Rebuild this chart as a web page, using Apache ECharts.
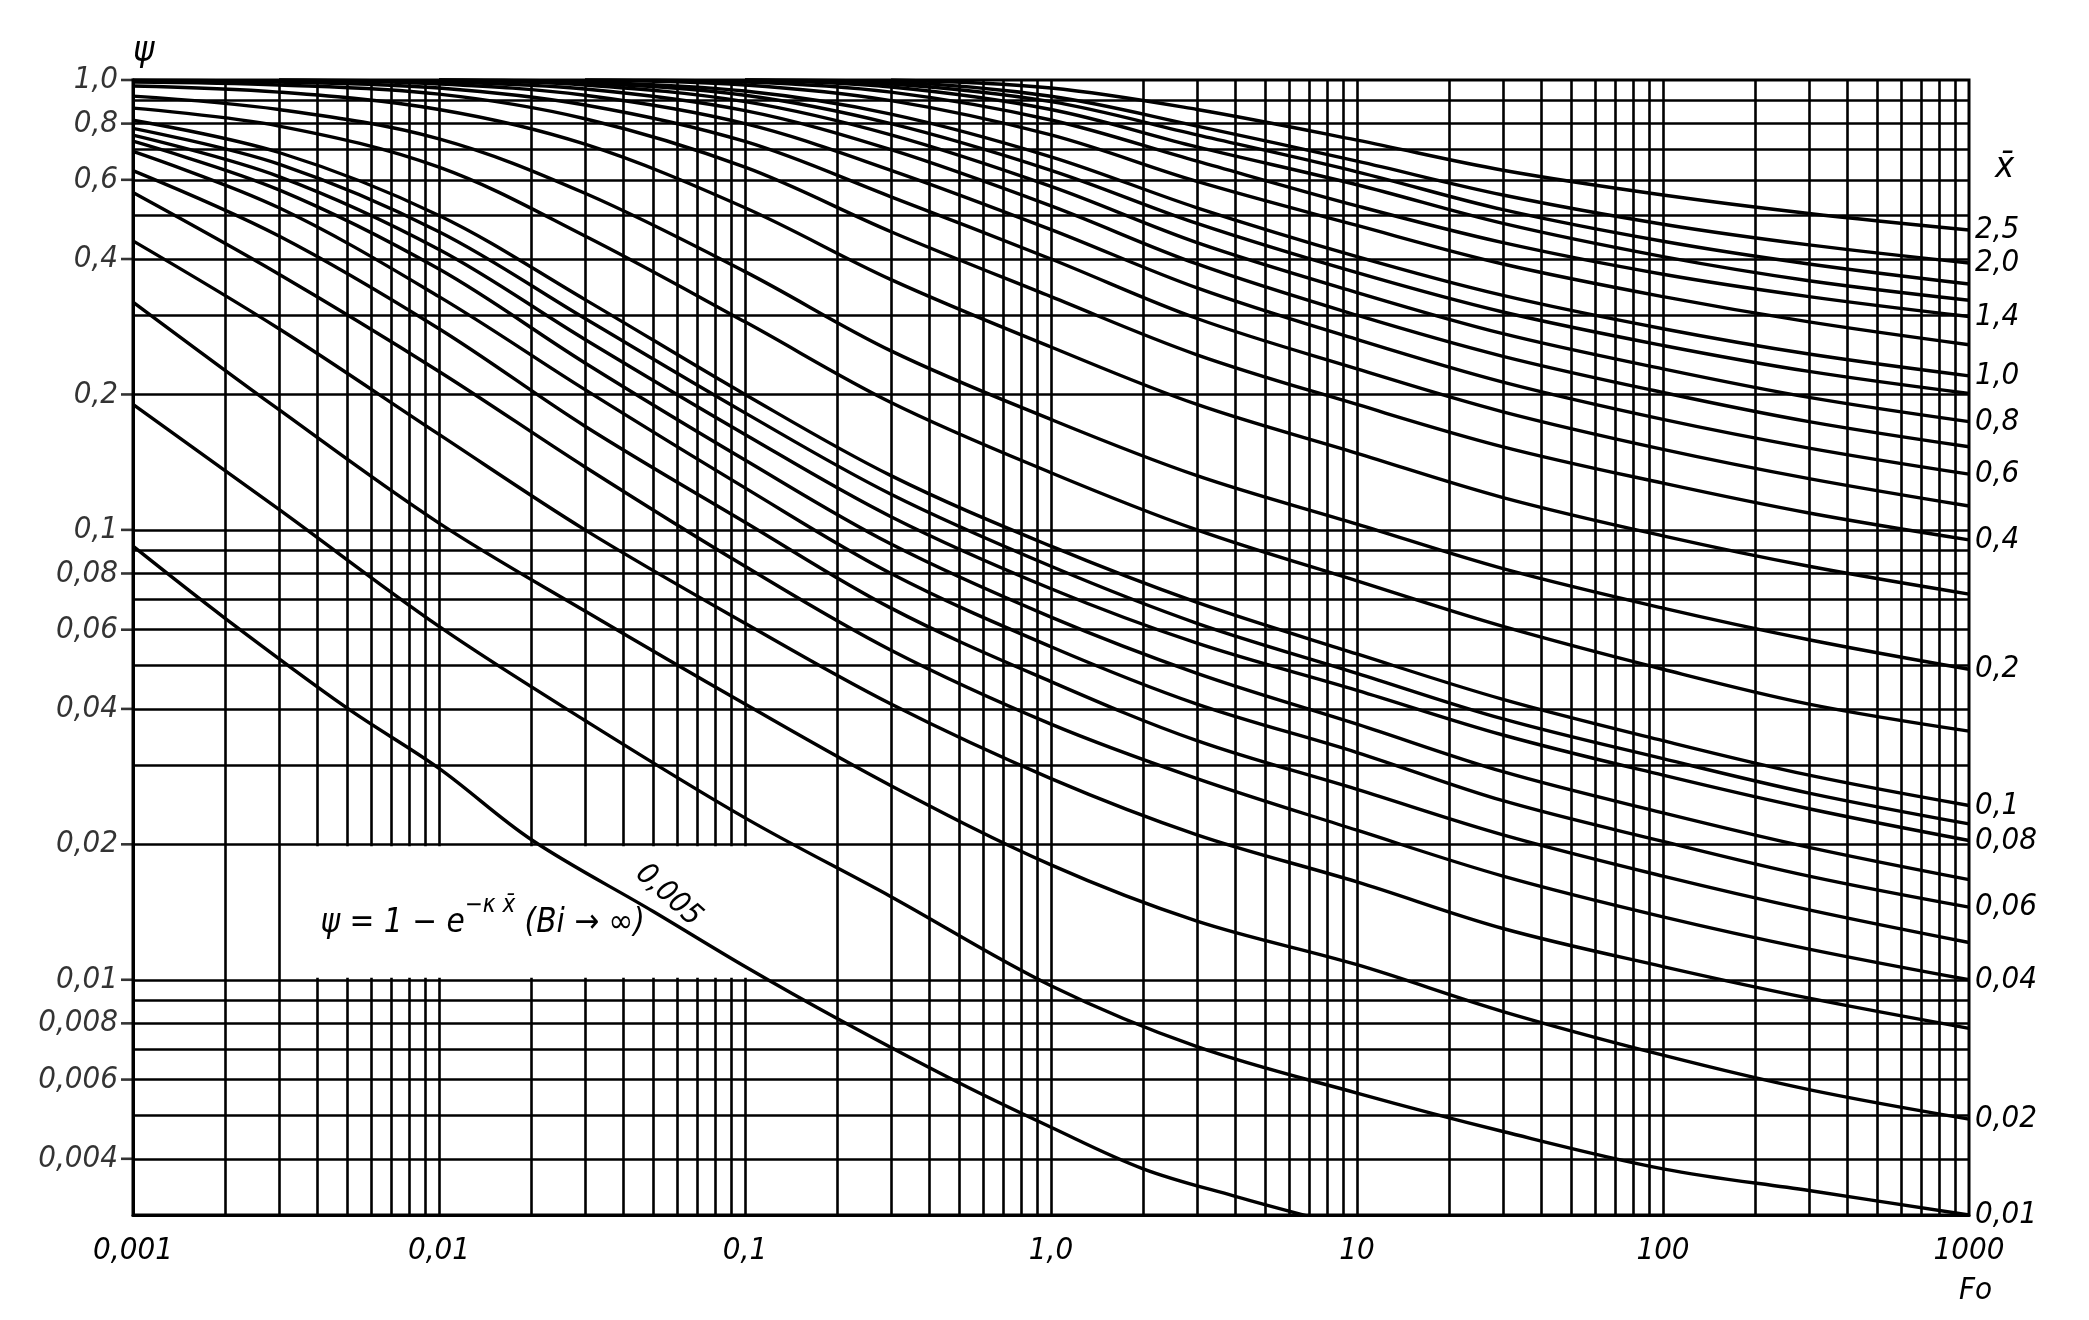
<!DOCTYPE html>
<html>
<head>
<meta charset="utf-8">
<script src="https://cdn.jsdelivr.net/npm/echarts/dist/echarts.min.js"></script>
<style>
html, body { margin: 0; padding: 0; background: #fff; }
#chart { width: 2089px; height: 1320px; }
</style>
</head>
<body>
<div id="chart"></div>
<script>
// Fo grid (x) shared by the curves
const fo = [0.001, 0.003, 0.01, 0.03, 0.1, 0.3, 1, 3, 10, 30, 100, 300, 1000];

// psi values, one array per x-bar curve
const psi_2_5 = [null, null, null, null, null, 1.0, 0.96, 0.86, 0.735, 0.63, 0.555, 0.505, 0.464];
const psi_2_0 = [null, null, null, null, 1.0, 0.99, 0.92, 0.79, 0.66, 0.555, 0.478, 0.43, 0.392];
const psi_1_8 = [null, null, null, null, 1.0, 0.98, 0.895, 0.755, 0.625, 0.515, 0.438, 0.39, 0.352];
const psi_1_6 = [null, null, null, null, 1.0, 0.965, 0.86, 0.71, 0.585, 0.48, 0.405, 0.358, 0.324];
const psi_1_4 = [null, null, null, 1.0, 0.99, 0.94, 0.815, 0.66, 0.525, 0.435, 0.37, 0.33, 0.298];
const psi_1_2 = [null, null, null, 1.0, 0.975, 0.90, 0.755, 0.595, 0.475, 0.39, 0.33, 0.29, 0.258];
const psi_1_0 = [null, null, 1.0, 0.99, 0.945, 0.84, 0.675, 0.52, 0.405, 0.332, 0.28, 0.246, 0.22];
const psi_0_9 = [null, null, 1.0, 0.985, 0.925, 0.80, 0.63, 0.48, 0.373, 0.305, 0.257, 0.225, 0.201];
const psi_0_8 = [null, null, 1.0, 0.975, 0.895, 0.755, 0.58, 0.435, 0.337, 0.273, 0.228, 0.197, 0.174];
const psi_0_7 = [null, 1.0, 0.99, 0.955, 0.855, 0.70, 0.525, 0.39, 0.30, 0.243, 0.202, 0.174, 0.153];
const psi_0_6 = [null, 1.0, 0.98, 0.925, 0.80, 0.63, 0.465, 0.345, 0.265, 0.213, 0.176, 0.152, 0.133];
const psi_0_5 = [1.0, 0.99, 0.96, 0.88, 0.73, 0.55, 0.40, 0.295, 0.228, 0.183, 0.151, 0.13, 0.113];
const psi_0_4 = [0.99, 0.975, 0.93, 0.82, 0.64, 0.46, 0.33, 0.245, 0.19, 0.153, 0.127, 0.109, 0.095];
const psi_0_3 = [0.97, 0.94, 0.86, 0.72, 0.52, 0.36, 0.255, 0.19, 0.148, 0.118, 0.097, 0.083, 0.072];
const psi_0_2 = [0.921, 0.86, 0.74, 0.56, 0.375, 0.25, 0.176, 0.132, 0.103, 0.082, 0.067, 0.057, 0.049];
const psi_0_15 = [0.866, 0.79, 0.64, 0.45, 0.29, 0.192, 0.134, 0.10, 0.077, 0.061, 0.049, 0.041, 0.0357];
const psi_0_1 = [0.814, 0.69, 0.50, 0.325, 0.20, 0.132, 0.092, 0.069, 0.053, 0.042, 0.034, 0.0285, 0.0244];
const psi_0_09 = [0.781, 0.65, 0.46, 0.295, 0.182, 0.12, 0.083, 0.062, 0.048, 0.038, 0.031, 0.026, 0.0222];
const psi_0_08 = [0.754, 0.61, 0.42, 0.265, 0.163, 0.107, 0.074, 0.056, 0.044, 0.035, 0.0285, 0.024, 0.0204];
const psi_0_07 = [0.731, 0.57, 0.38, 0.235, 0.143, 0.093, 0.064, 0.048, 0.037, 0.029, 0.0235, 0.0197, 0.0167];
const psi_0_06 = [0.694, 0.52, 0.33, 0.205, 0.124, 0.080, 0.055, 0.041, 0.032, 0.025, 0.0203, 0.017, 0.0145];
const psi_0_05 = [0.629, 0.45, 0.28, 0.17, 0.104, 0.067, 0.046, 0.034, 0.0265, 0.021, 0.017, 0.0143, 0.0121];
const psi_0_04 = [0.562, 0.37, 0.225, 0.138, 0.083, 0.054, 0.037, 0.028, 0.0215, 0.017, 0.0138, 0.0117, 0.0100];
const psi_0_03 = [0.439, 0.28, 0.163, 0.10, 0.062, 0.041, 0.028, 0.021, 0.0165, 0.013, 0.0107, 0.0091, 0.0078];
const psi_0_02 = [0.321, 0.185, 0.1035, 0.066, 0.041, 0.027, 0.018, 0.0135, 0.0108, 0.0085, 0.0068, 0.0057, 0.0049];
const psi_0_01 = [0.19, 0.111, 0.061, 0.0377, 0.0229, 0.0153, 0.0097, 0.0071, 0.0056, 0.0046, 0.0038, 0.0034, 0.0030];
// the 0,005 curve runs out through the bottom edge, so it has its own Fo points
const fo_0_005 = [0.001, 0.002, 0.005, 0.01, 0.02, 0.05, 0.1, 0.2, 0.5, 1, 2, 4, 7.2];
const psi_0_005 = [0.092, 0.0636, 0.0402, 0.0295, 0.0205, 0.0142, 0.0107, 0.0082, 0.0059, 0.0047, 0.0038, 0.0033, 0.00296];

// axes: tick labels and grid lines
const xDecades = [0.001, 0.01, 0.1, 1, 10, 100];
const xTickText = ['0,001', '0,01', '0,1', '1,0', '10', '100', '1000'];
const yGrid = [0.9, 0.8, 0.7, 0.6, 0.5, 0.4, 0.3, 0.2, 0.1, 0.09, 0.08, 0.07, 0.06, 0.05, 0.04, 0.03, 0.02,
  0.01, 0.009, 0.008, 0.007, 0.006, 0.005, 0.004];
const yLabelVals = [1, 0.8, 0.6, 0.4, 0.2, 0.1, 0.08, 0.06, 0.04, 0.02, 0.01, 0.008, 0.006, 0.004];
const yLabelText = ['1,0', '0,8', '0,6', '0,4', '0,2', '0,1', '0,08', '0,06', '0,04', '0,02', '0,01', '0,008', '0,006', '0,004'];

const curves = [
  { name: '2,5', lab: true, psi: psi_2_5 },
  { name: '2,0', lab: true, psi: psi_2_0 },
  { name: '1,8', lab: false, psi: psi_1_8 },
  { name: '1,6', lab: false, psi: psi_1_6 },
  { name: '1,4', lab: true, psi: psi_1_4 },
  { name: '1,2', lab: false, psi: psi_1_2 },
  { name: '1,0', lab: true, psi: psi_1_0 },
  { name: '0,9', lab: false, psi: psi_0_9 },
  { name: '0,8', lab: true, psi: psi_0_8 },
  { name: '0,7', lab: false, psi: psi_0_7 },
  { name: '0,6', lab: true, psi: psi_0_6 },
  { name: '0,5', lab: false, psi: psi_0_5 },
  { name: '0,4', lab: true, psi: psi_0_4 },
  { name: '0,3', lab: false, psi: psi_0_3 },
  { name: '0,2', lab: true, psi: psi_0_2 },
  { name: '0,15', lab: false, psi: psi_0_15 },
  { name: '0,1', lab: true, psi: psi_0_1 },
  { name: '0,09', lab: false, psi: psi_0_09 },
  { name: '0,08', lab: true, psi: psi_0_08 },
  { name: '0,07', lab: false, psi: psi_0_07 },
  { name: '0,06', lab: true, psi: psi_0_06 },
  { name: '0,05', lab: false, psi: psi_0_05 },
  { name: '0,04', lab: true, psi: psi_0_04 },
  { name: '0,03', lab: false, psi: psi_0_03 },
  { name: '0,02', lab: true, psi: psi_0_02 },
  { name: '0,01', lab: true, psi: psi_0_01 }
];

const FONT = '"Liberation Sans Narrow", "DejaVu Sans Condensed", "DejaVu Sans", sans-serif';
const txt = { fontFamily: FONT, fontStyle: 'italic', fontSize: 31, color: '#000' };

// grid lines: vertical at 1..9 x 10^k, horizontal at the psi steps
let gridSegs = [];
xDecades.forEach(d => {
  [1, 2, 3, 4, 5, 6, 7, 8, 9].forEach(m => {
    const v = +(d * m).toPrecision(3);
    if (v > 0.001) gridSegs.push({ coords: [[v, 0.003], [v, 1]] });
  });
});
yGrid.forEach(v => gridSegs.push({ coords: [[0.001, v], [1000, v]] }));

let series = [{
  type: 'lines',
  coordinateSystem: 'cartesian2d',
  silent: true,
  animation: false,
  z: 1,
  lineStyle: { color: '#000', width: 2.6, opacity: 1, curveness: 0 },
  data: gridSegs
}, {
  // psi labels with the little ticks left of the frame
  type: 'scatter',
  silent: true,
  animation: false,
  z: 1,
  symbol: 'rect',
  symbolSize: [12, 2.6],
  symbolOffset: [-6, 0],
  itemStyle: { color: '#000' },
  data: yLabelVals.map(v => [0.001, v]),
  label: Object.assign({ show: true, position: 'left', distance: 3, formatter: p => yLabelText[p.dataIndex] }, txt)
}];

const curveStyle = {
  type: 'line',
  showSymbol: false,
  silent: true,
  smooth: 0.35,
  z: 3,
  animation: false,
  lineStyle: { color: '#000', width: 3.4 }
};

curves.forEach(c => {
  let pts = [];
  fo.forEach((f, i) => { if (c.psi[i] != null) pts.push([f, c.psi[i]]); });
  series.push(Object.assign({}, curveStyle, {
    name: c.name,
    data: pts,
    endLabel: Object.assign({ show: c.lab, formatter: c.name, distance: 6 }, txt)
  }));
});
series.push(Object.assign({}, curveStyle, {
  name: '0,005',
  data: fo_0_005.map((f, i) => [f, psi_0_005[i]])
}));

const chart = echarts.init(document.getElementById('chart'));
chart.setOption({
  animation: false,
  backgroundColor: '#fff',
  grid: { left: 133, right: 120, top: 80, bottom: 105, show: true, borderColor: '#000', borderWidth: 3, backgroundColor: 'transparent' },
  xAxis: {
    type: 'log', logBase: 10, min: 0.001, max: 1000, splitNumber: 6,
    axisLine: { show: true, lineStyle: { color: '#000', width: 3 } },
    axisTick: { show: false },
    splitLine: { show: false },
    axisLabel: Object.assign({
      margin: 20,
      formatter: v => xTickText[Math.round(Math.log10(v)) + 3]
    }, txt)
  },
  yAxis: {
    type: 'log', logBase: 10, min: 0.003, max: 1,
    name: 'ψ', nameLocation: 'end', nameGap: 10,
    nameTextStyle: Object.assign({}, txt, { fontSize: 36, align: 'left', padding: [0, 0, 0, 0] }),
    axisLine: { show: true, lineStyle: { color: '#000', width: 3 } },
    axisTick: { show: false },
    splitLine: { show: false },
    axisLabel: { show: false }
  },
  series: series
});

// annotations placed through the axes
const px = (f, p) => chart.convertToPixel({ xAxisIndex: 0, yAxisIndex: 0 }, [f, p]);
const boxA = px(0.003, 0.02), boxB = px(0.19, 0.01);
const frm = px(0.0041, 0.0138);
const lab005 = px(0.042, 0.0166);
const corner = px(1000, 0.003);
const xbarPos = px(1000, 0.64);

chart.setOption({
  graphic: [
    {
      type: 'rect', z: 2, silent: true,
      shape: { x: boxA[0] + 2, y: boxA[1] + 2, width: boxB[0] - boxA[0] - 4, height: boxB[1] - boxA[1] - 4 },
      style: { fill: '#fff' }
    },
    {
      type: 'text', z: 4, x: frm[0], y: frm[1],
      style: {
        text: '{t|ψ = 1 − e}{s|−κ x̄}{t| (Bi → ∞)}',
        verticalAlign: 'middle',
        rich: {
          t: { fontFamily: FONT, fontStyle: 'italic', fontSize: 33, lineHeight: 46, verticalAlign: 'bottom', fill: '#000' },
          s: { fontFamily: FONT, fontStyle: 'italic', fontSize: 24, lineHeight: 24, verticalAlign: 'top', fill: '#000' }
        }
      }
    },
    {
      type: 'text', z: 4, x: lab005[0], y: lab005[1], rotation: -42 * Math.PI / 180,
      style: { text: '0,005', fontFamily: FONT, fontStyle: 'italic', fontSize: 30, fill: '#000', verticalAlign: 'bottom' }
    },
    {
      type: 'text', z: 4, x: xbarPos[0] + 26, y: xbarPos[1],
      style: { text: 'x̄', fontFamily: FONT, fontStyle: 'italic', fontSize: 36, fill: '#000', verticalAlign: 'middle' }
    },
    {
      type: 'text', z: 4, x: corner[0] - 10, y: corner[1] + 60,
      style: { text: 'Fo', fontFamily: FONT, fontStyle: 'italic', fontSize: 31, fill: '#000' }
    }
  ]
});
</script>
</body>
</html>
